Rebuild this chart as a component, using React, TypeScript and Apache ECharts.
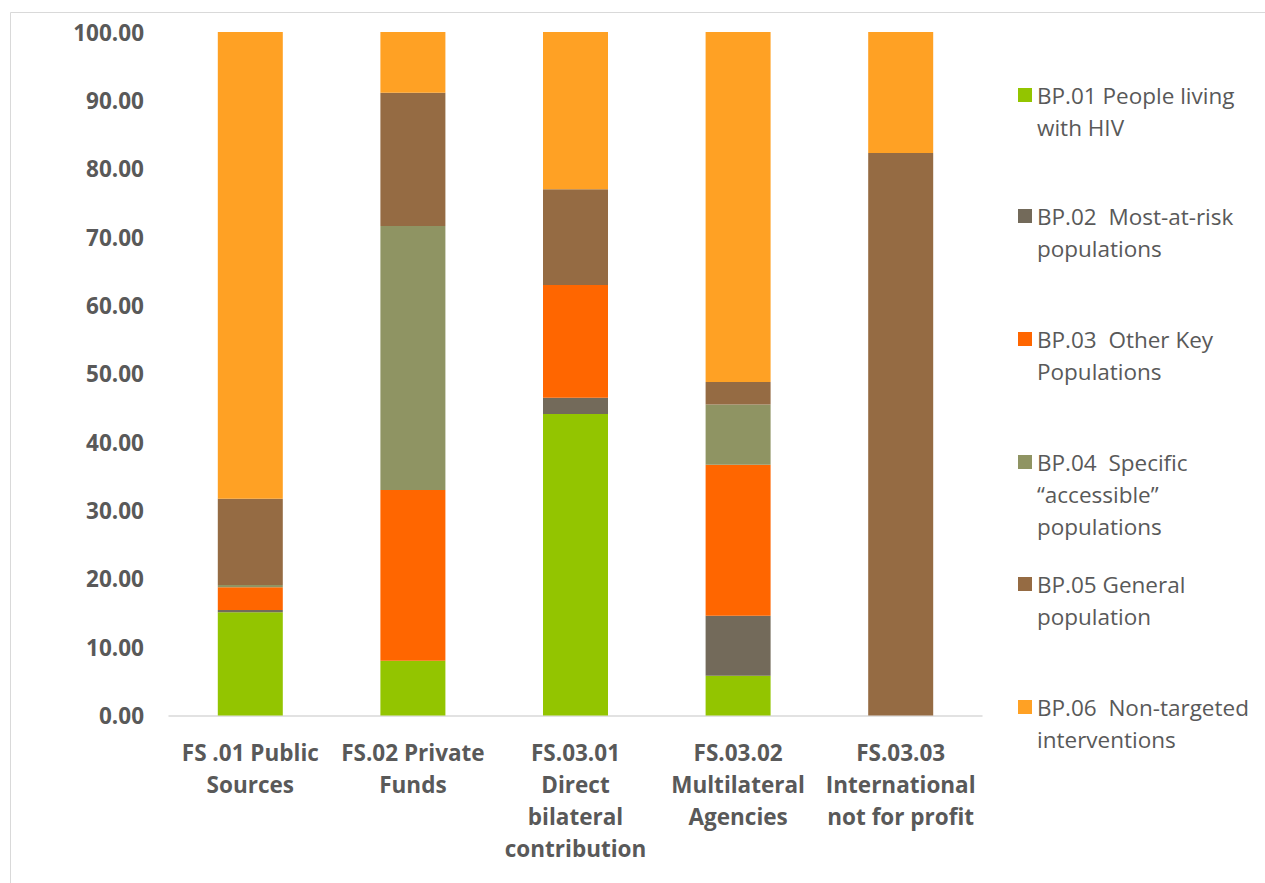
import React, { useEffect, useRef } from "react";
import * as echarts from "echarts";

const categories = [
  "FS .01 Public\nSources",
  "FS.02 Private\nFunds",
  "FS.03.01\nDirect\nbilateral\ncontribution",
  "FS.03.02\nMultilateral\nAgencies",
  "FS.03.03\nInternational\nnot for profit",
];

const seriesNames = [
  "BP.01 People living with HIV",
  "BP.02  Most-at-risk populations",
  "BP.03  Other Key Populations",
  "BP.04  Specific “accessible” populations",
  "BP.05 General population",
  "BP.06  Non-targeted interventions",
];

const legendLabels = [
  "BP.01 People living\nwith HIV",
  "BP.02  Most-at-risk\npopulations",
  "BP.03  Other Key\nPopulations",
  "BP.04  Specific\n“accessible”\npopulations",
  "BP.05 General\npopulation",
  "BP.06  Non-targeted\ninterventions",
];

const bp01 = [15.1, 8.0, 44.1, 5.8, 0];
const bp02 = [0.35, 0, 2.4, 8.8, 0];
const bp03 = [3.3, 25.0, 16.5, 22.1, 0];
const bp04 = [0.35, 38.6, 0, 8.8, 0];
const bp05 = [12.6, 19.5, 14.0, 3.3, 82.3];
const bp06 = [68.3, 8.9, 23.0, 51.2, 17.7];

const seriesValues = [bp01, bp02, bp03, bp04, bp05, bp06];
const colors = ["#93C500", "#736A5A", "#FF6600", "#8F9463", "#956B43", "#FFA124"];

const FONT = "'Open Sans', sans-serif";
const TXT = "#595959";

export default function App() {
  const ref = useRef<HTMLDivElement>(null);
  useEffect(() => {
    if (!ref.current) return;
    const chart = echarts.init(ref.current, null, { renderer: "svg" });
    const lh = 32;
    const sq = 14;
    const firstLineCenters = [95, 216, 339, 462, 584, 707];
    const legends = seriesNames.map((name, i) => {
      const n = legendLabels[i].split("\n").length;
      const H = (n - 1) * lh + sq;
      const icon = `path://M0,0L${sq},0L${sq},${sq}L0,${sq}Z M0,${H - 0.01}L0.01,${H - 0.01}L0.01,${H}L0,${H}Z`;
      return {
        data: [{ name, icon }],
        orient: "vertical",
        left: 1018,
        top: firstLineCenters[i] - lh / 2,
        padding: 0,
        itemWidth: sq,
        itemHeight: H,
        itemGap: 0,
        selectedMode: false,
        formatter: () => legendLabels[i],
        textStyle: {
          fontFamily: FONT,
          fontSize: 22.5,
          color: TXT,
          lineHeight: lh,
        },
      };
    });
    chart.setOption({
      animation: false,
      color: colors,
      graphic: [
        {
          type: "rect",
          shape: { x: 10.5, y: 12.5, width: 1400, height: 1000 },
          style: { fill: "none", stroke: "#d9d9d9", lineWidth: 1 },
          silent: true,
        },
      ],
      legend: legends,
      grid: { left: 169, right: 283, top: 32, bottom: 167.5, containLabel: false },
      xAxis: {
        type: "category",
        data: categories,
        axisLine: { show: true, lineStyle: { color: "#d9d9d9", width: 1.5 } },
        axisTick: { show: false },
        axisLabel: {
          interval: 0,
          margin: 21,
          fontFamily: FONT,
          fontWeight: "bold",
          fontSize: 22.5,
          color: TXT,
          lineHeight: 32,
        },
      },
      yAxis: {
        type: "value",
        min: 0,
        max: 100,
        interval: 10,
        splitLine: { show: false },
        axisLine: { show: false },
        axisTick: { show: false },
        axisLabel: {
          margin: 25,
          fontFamily: FONT,
          fontWeight: "bold",
          fontSize: 22.5,
          color: TXT,
          formatter: (v: number) => v.toFixed(2),
        },
      },
      series: seriesNames.map((name, i) => ({
        name,
        type: "bar",
        stack: "total",
        data: seriesValues[i],
        barWidth: 65,
        itemStyle: { color: colors[i] },
      })),
    });
    return () => chart.dispose();
  }, []);
  return (
    <div
      ref={ref}
      style={{ position: "fixed", left: 0, top: 0, width: 1265, height: 883, background: "#fff" }}
    />
  );
}
